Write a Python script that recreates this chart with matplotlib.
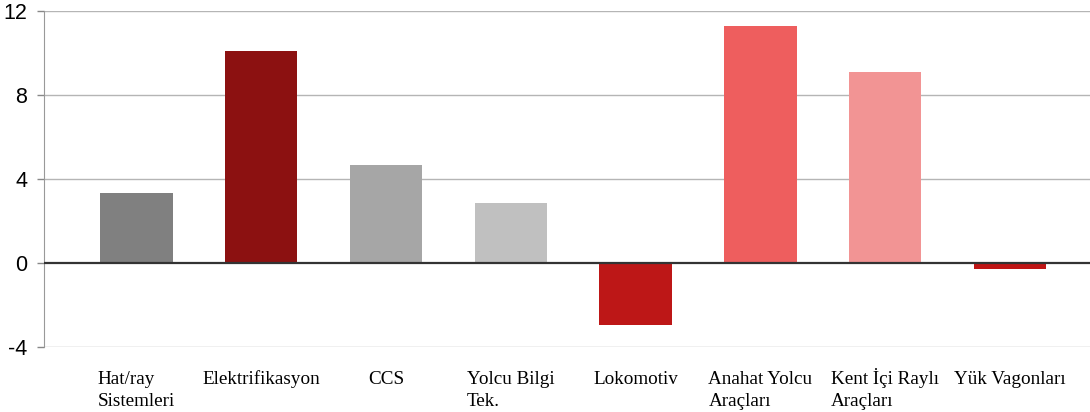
import numpy as np
import matplotlib.pyplot as plt

categories = ['Hat/ray\nSistemleri', 'Elektrifikasyon', 'CCS', 'Yolcu Bilgi\nTek.',
              'Lokomotiv', 'Anahat Yolcu\nAraçları', 'Kent İçi Raylı\nAraçları', 'Yük Vagonları']
values = [3.33, 10.1, 4.67, 2.86, -2.95, 11.29, 9.1, -0.29]
colors = ['#808080', '#8c1111', '#a6a6a6', '#c0c0c0', '#bd1717', '#ee5e5e', '#f29494', '#bf1515']
yticks = [-4, 0, 4, 8, 12]

fig = plt.figure(figsize=(10.9, 4.12), dpi=100)
ax = fig.add_axes([44 / 1090, 1 - 347 / 412, 1 - 44 / 1090, 336 / 412])

x = np.arange(len(categories))
ax.bar(x, values, width=0.58, color=colors, zorder=3)

ax.set_ylim(-4, 12)
ax.set_xlim(-0.74, 7.64)
ax.set_yticks(yticks)
ax.set_yticklabels([str(t) for t in yticks], family='Liberation Sans', fontsize=15.5)
ax.tick_params(axis='y', length=5, width=1, color='#888888', pad=7)

# category names: first lines share one baseline, extra lines hang below
ax.set_xticks([])
line_px = 22.5
for xi, lab in zip(x, categories):
    n = lab.count('\n')
    ax.annotate(lab, xy=(xi, 0), xycoords=('data', 'axes fraction'),
                xytext=(0, -(37 + line_px * n) * 0.72), textcoords='offset points',
                ha='center', va='baseline', multialignment='left',
                family='Liberation Serif', fontsize=13.8, linespacing=1.42,
                annotation_clip=False)

for t in yticks:
    if t == 0:
        ax.axhline(t, color='#333333', lw=1.6, zorder=4)
    else:
        ax.axhline(t, color='#b5b5b5', lw=1, zorder=1)

for side in ['top', 'right', 'bottom']:
    ax.spines[side].set_visible(False)
ax.spines['left'].set_color('#999999')

fig.savefig('out.png', dpi=100)
